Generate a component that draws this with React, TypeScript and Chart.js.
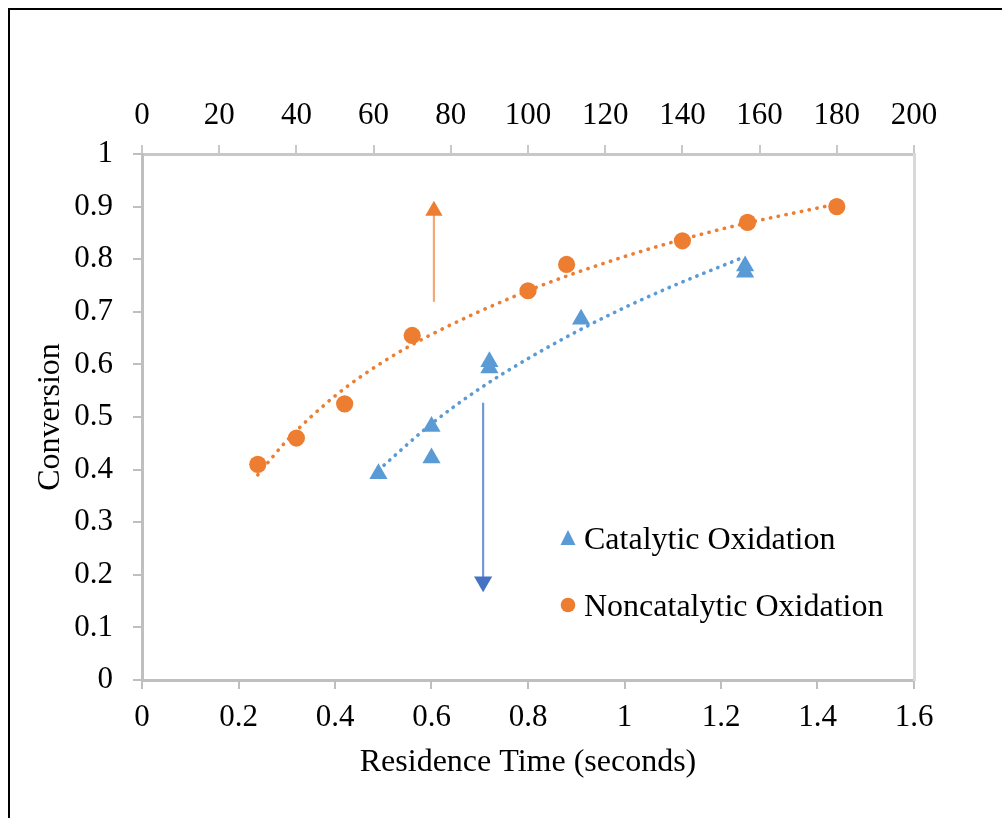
import React, { useEffect, useRef } from "react";
import { Chart, registerables } from "chart.js";

Chart.register(...registerables);

// ---- data ----
const catalyticX = [0.49, 0.6, 0.6, 0.72, 0.72, 0.91, 1.25, 1.25];
const catalyticY = [0.392, 0.422, 0.482, 0.605, 0.593, 0.686, 0.787, 0.775];

const noncatalyticX = [0.24, 0.32, 0.42, 0.56, 0.8, 0.88, 1.12, 1.255, 1.44];
const noncatalyticY = [0.41, 0.46, 0.525, 0.655, 0.74, 0.79, 0.835, 0.87, 0.9];

// dotted trendlines
const nonTrendX = [0.24, 0.3, 0.4, 0.5, 0.6, 0.8, 1.0, 1.2, 1.44];
const nonTrendY = [0.39, 0.455, 0.54, 0.605, 0.657, 0.74, 0.805, 0.857, 0.905];
const catTrendX = [0.49, 0.6, 0.7, 0.8, 0.9, 1.0, 1.1, 1.25];
const catTrendY = [0.399, 0.487, 0.554, 0.611, 0.662, 0.708, 0.749, 0.805];

// axis-pointer arrows
const upArrowX = [0.605, 0.605];
const upArrowY = [0.719, 0.892];
const downArrowX = [0.707, 0.707];
const downArrowY = [0.527, 0.187];

// axes
const bottomMin = 0;
const bottomMax = 1.6;
const bottomStep = 0.2;
const topMin = 0;
const topMax = 200;
const topStep = 20;
const leftMin = 0;
const leftMax = 1;
const leftStep = 0.1;

const seriesLabels = ["Catalytic Oxidation", "Noncatalytic Oxidation"];
const xTitle = "Residence Time (seconds)";
const yTitle = "Conversion";

const FONT = "'Liberation Serif', 'Times New Roman', serif";
const ORANGE = "#ED7D31";
const BLUE = "#5B9BD5";

const zip = (xs: number[], ys: number[]) => xs.map((x, i) => ({ x, y: ys[i] }));
const fmt = (v: any) => String(Number(Number(v).toFixed(2)));

const legendPlugin = {
  id: "customLegend",
  afterDatasetsDraw(chart: any, _args: any, opts: any) {
    const ctx = chart.ctx as CanvasRenderingContext2D;
    ctx.save();
    (opts.items || []).forEach((it: any, i: number) => {
      const ds = chart.data.datasets[it.dataset];
      const cy = opts.markerY + i * opts.gap;
      const cx = opts.markerX;
      ctx.fillStyle = ds.pointBackgroundColor;
      ctx.beginPath();
      if (ds.pointStyle === "triangle") {
        ctx.moveTo(cx, cy - 8);
        ctx.lineTo(cx + 7.5, cy + 7);
        ctx.lineTo(cx - 7.5, cy + 7);
        ctx.closePath();
      } else {
        ctx.arc(cx, cy, 7.3, 0, Math.PI * 2);
      }
      ctx.fill();
      ctx.fillStyle = "#000";
      ctx.font = `${opts.fontSize}px ${FONT}`;
      ctx.textBaseline = "alphabetic";
      ctx.textAlign = "left";
      ctx.fillText(ds.label, opts.textX, opts.baseY + i * opts.gap);
    });
    ctx.restore();
  },
};

export default function App() {
  const ref = useRef<HTMLCanvasElement | null>(null);

  useEffect(() => {
    if (!ref.current) return;
    const tickFont = { family: FONT, size: 31 };
    const titleFont = { family: FONT, size: 32 };
    const chart = new Chart(ref.current, {
      type: "scatter",
      data: {
        datasets: [
          {
            label: seriesLabels[0],
            data: zip(catalyticX, catalyticY),
            pointStyle: "triangle",
            pointRadius: 10.5,
            pointBackgroundColor: BLUE,
            pointBorderWidth: 0,
            borderColor: BLUE,
            order: 1,
          } as any,
          {
            label: seriesLabels[1],
            data: zip(noncatalyticX, noncatalyticY),
            pointStyle: "circle",
            pointRadius: 8.6,
            pointBackgroundColor: ORANGE,
            pointBorderWidth: 0,
            borderColor: ORANGE,
            order: 1,
          } as any,
          {
            label: "Noncatalytic trend",
            data: zip(nonTrendX, nonTrendY),
            showLine: true,
            pointRadius: 0,
            borderColor: ORANGE,
            borderWidth: 3.6,
            borderDash: [0.3, 7.6],
            borderCapStyle: "round",
            cubicInterpolationMode: "monotone",
            order: 3,
          } as any,
          {
            label: "Catalytic trend",
            data: zip(catTrendX, catTrendY),
            showLine: true,
            pointRadius: 0,
            borderColor: BLUE,
            borderWidth: 3.6,
            borderDash: [0.3, 7.2],
            borderCapStyle: "round",
            cubicInterpolationMode: "monotone",
            order: 3,
          } as any,
          {
            label: "Top axis arrow",
            data: zip(upArrowX, upArrowY),
            showLine: true,
            borderColor: "#F4A874",
            borderWidth: 2.2,
            pointStyle: "triangle",
            pointRadius: [0, 10],
            pointBackgroundColor: ORANGE,
            pointBorderWidth: 0,
            order: 2,
          } as any,
          {
            label: "Bottom axis arrow",
            data: zip(downArrowX, downArrowY),
            showLine: true,
            borderColor: "#7398D8",
            borderWidth: 2.2,
            pointStyle: "triangle",
            pointRotation: 180,
            pointRadius: [0, 10.5],
            pointBackgroundColor: "#4472C4",
            pointBorderWidth: 0,
            order: 2,
          } as any,
        ],
      },
      options: {
        responsive: false,
        animation: false,
        devicePixelRatio: 1,
        layout: { padding: 0 },
        events: [],
        plugins: {
          legend: { display: false },
          tooltip: { enabled: false },
          customLegend: {
            items: [{ dataset: 0 }, { dataset: 1 }],
            markerX: 568,
            markerY: 538,
            textX: 584,
            baseY: 549,
            gap: 67,
            fontSize: 32,
          },
        } as any,
        scales: {
          x: {
            type: "linear",
            position: "bottom",
            min: bottomMin,
            max: bottomMax,
            ticks: { stepSize: bottomStep, color: "#000", font: tickFont, padding: 10, maxRotation: 0, autoSkip: false, callback: fmt },
            grid: { drawOnChartArea: false, color: "#BFBFBF", lineWidth: 2, tickLength: 9 },
            border: { color: "#BFBFBF", width: 3 },
            title: { display: true, text: xTitle, color: "#000", font: titleFont, padding: { top: 0, bottom: 36 } },
            afterFit: (s: any) => {
              s.height = 138;
            },
          },
          x2: {
            type: "linear",
            position: "top",
            min: topMin,
            max: topMax,
            ticks: { stepSize: topStep, color: "#000", font: tickFont, padding: 11, maxRotation: 0, autoSkip: false, callback: fmt },
            grid: { drawOnChartArea: false, color: "#C8C8C8", lineWidth: 2, tickLength: 9 },
            border: { color: "#C8C8C8", width: 3 },
            afterFit: (s: any) => {
              s.height = 154;
            },
          },
          y: {
            type: "linear",
            position: "left",
            min: leftMin,
            max: leftMax,
            ticks: { stepSize: leftStep, color: "#000", font: tickFont, padding: 20, autoSkip: false, callback: fmt },
            grid: { drawOnChartArea: false, color: "#BFBFBF", lineWidth: 2, tickLength: 9 },
            border: { color: "#BFBFBF", width: 3 },
            title: { display: true, text: yTitle, color: "#000", font: titleFont, padding: { top: 31, bottom: 0 } },
            afterFit: (s: any) => {
              s.width = 142;
            },
          },
          y2: {
            type: "linear",
            position: "right",
            min: leftMin,
            max: leftMax,
            ticks: { display: false },
            grid: { display: false },
            border: { color: "#D9D9D9", width: 3 },
            afterFit: (s: any) => {
              s.width = 88;
            },
          },
        } as any,
      },
      plugins: [legendPlugin as any],
    });
    return () => chart.destroy();
  }, []);

  return (
    <div
      style={{
        position: "fixed",
        left: 0,
        top: 0,
        width: 1002,
        height: 818,
        background: "#fff",
        overflow: "hidden",
      }}
    >
      <div
        style={{
          position: "absolute",
          left: 8,
          top: 8,
          width: 1200,
          height: 1000,
          borderTop: "2px solid #000",
          borderLeft: "2px solid #000",
        }}
      />
      <canvas
        ref={ref}
        width={1002}
        height={818}
        style={{ position: "absolute", left: 0, top: 0, width: 1002, height: 818 }}
      />
    </div>
  );
}
